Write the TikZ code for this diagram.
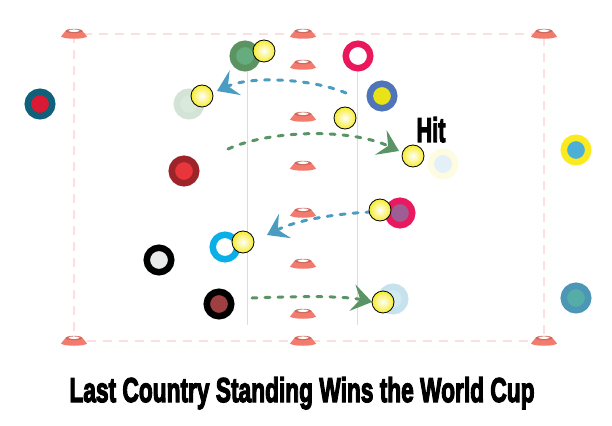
\documentclass[tikz,border=0pt]{standalone}
\usepackage{fontspec}
\usepackage{graphicx}
\usetikzlibrary{arrows.meta}
\newfontfamily\titlefont{Liberation Sans}[BoldFeatures={FakeBold=4}]

\definecolor{conecol}{HTML}{F37B6D}
\definecolor{fieldcol}{HTML}{FCE0E0}
\definecolor{lanecol}{HTML}{DEDED6}
\definecolor{ballcol}{HTML}{F6EC2E}
\definecolor{runblue}{HTML}{4A9CC0}
\definecolor{rungreen}{HTML}{5A9466}
% kit colours
\definecolor{tealout}{HTML}{0F6079}
\definecolor{tealin}{HTML}{DA1A35}
\definecolor{greenout}{HTML}{5B9361}
\definecolor{greenin}{HTML}{65AD7E}
\definecolor{ghostgreenout}{HTML}{D3E3D5}
\definecolor{ghostgreenin}{HTML}{D9EADC}
\definecolor{redringout}{HTML}{E9175C}
\definecolor{blueout}{HTML}{4F74B7}
\definecolor{bluein}{HTML}{E7E316}
\definecolor{ghostskyout}{HTML}{FDFBE1}
\definecolor{ghostskyin}{HTML}{E3F0F8}
\definecolor{yellowout}{HTML}{FBEA20}
\definecolor{yellowin}{HTML}{4CAFD7}
\definecolor{darkredout}{HTML}{9D2428}
\definecolor{darkredin}{HTML}{E9353C}
\definecolor{pinkout}{HTML}{E8195F}
\definecolor{pinkin}{HTML}{9E5E94}
\definecolor{cyanout}{HTML}{0AAFE8}
\definecolor{greyin}{HTML}{E9EBEA}
\definecolor{maroonin}{HTML}{9E4042}
\definecolor{ghostblueout}{HTML}{C6E2EC}
\definecolor{ghostbluein}{HTML}{D1E9F1}
\definecolor{tealgreenout}{HTML}{4B97B5}
\definecolor{tealgreenin}{HTML}{56ADA7}

\tikzset{
  player/.style 2 args={circle, draw=#1, fill=#2, line width=6.5pt, minimum size=24.5pt, inner sep=0pt},
  ball/.style={circle, draw=black, line width=0.8pt, inner color=white, outer color=ballcol, minimum size=22pt, inner sep=0pt},
  run/.style={line width=3pt, line cap=round, dash pattern=on 5pt off 8pt, -{Stealth[length=20pt, width=27pt, inset=8pt]}},
  cone/.pic={
    \fill[conecol] (-8.5,-3) -- (8.5,-3) -- (13,2.5) .. controls (10,5.5) and (-10,5.5) .. (-13,2.5) -- cycle;
    \fill[conecol!85!black] (0,-3) ellipse (8.5 and 2.2);
    \fill[white] (0,-3.3) ellipse (5.5 and 1.3);
  }
}

\begin{document}
\begin{tikzpicture}[x=1pt, y=-1pt]
  \useasboundingbox (0,0) rectangle (612,425);

  % field and lanes
  \draw[fieldcol, line width=1.5pt, dash pattern=on 9pt off 7pt] (74,34) rectangle (544,341);
  \draw[lanecol, line width=1pt] (247,70) -- (247,325);
  \draw[lanecol, line width=1pt] (357,72) -- (357,325);

  % cones
  \pic (c1) at (74,34) {cone};
  \pic (c2) at (303,34) {cone};
  \pic (c3) at (544,34) {cone};
  \pic (c4) at (303,65) {cone};
  \pic (c5) at (303,117) {cone};
  \pic (c6) at (303,166) {cone};
  \pic (c7) at (303,213) {cone};
  \pic (c8) at (303,264) {cone};
  \pic (c9) at (303,314) {cone};
  \pic (c10) at (74,341) {cone};
  \pic (c11) at (303,341) {cone};
  \pic (c12) at (544,341) {cone};

  % runs
  \coordinate (r1s) at (346,93);
  \coordinate (r1e) at (217,91);
  \coordinate (r2s) at (228,149);
  \coordinate (r2e) at (399,151);
  \coordinate (r3s) at (371,212);
  \coordinate (r3e) at (267,235);
  \coordinate (r4s) at (252,298);
  \coordinate (r4e) at (372,302);
  \draw[run, runblue] (r1s) .. controls (310,78) and (250,76) .. (r1e);
  \draw[run, rungreen] (r2s) .. controls (270,130) and (350,128) .. (r2e);
  \draw[run, runblue] (r3s) .. controls (330,214) and (295,221) .. (r3e);
  \draw[run, rungreen] (r4s) .. controls (300,296) and (345,296) .. (r4e);

  % players
  \node[player={tealout}{tealin}] (teal) at (40,104) {};
  \node[player={greenout}{greenin}] (green) at (245,56) {};
  \node[player={ghostgreenout}{ghostgreenin}] (ghostgreen) at (189,104) {};
  \node[player={redringout}{white}] (redring) at (358,56) {};
  \node[player={blueout}{bluein}] (blueyellow) at (382,96) {};
  \node[player={ghostskyout}{ghostskyin}] (ghostsky) at (443,164) {};
  \node[player={yellowout}{yellowin}] (yellowsky) at (576,150) {};
  \node[player={darkredout}{darkredin}] (darkred) at (184,171) {};
  \node[player={pinkout}{pinkin}] (pink) at (400,213) {};
  \node[player={cyanout}{white}] (cyanring) at (225,247) {};
  \node[player={black}{greyin}] (blackgrey) at (159,260) {};
  \node[player={black}{maroonin}] (blackred) at (219,304) {};
  \node[player={ghostblueout}{ghostbluein}] (ghostblue) at (393,299) {};
  \node[player={tealgreenout}{tealgreenin}] (tealgreen) at (576,298) {};

  % balls
  \node[ball] (b1) at (264,51) {};
  \node[ball] (b2) at (202,96) {};
  \node[ball] (b3) at (345,118) {};
  \node[ball] (b4) at (413,156) {};
  \node[ball] (b5) at (380,210) {};
  \node[ball] (b6) at (243,242) {};
  \node[ball] (b7) at (383,302) {};

  % labels
  \node[anchor=base, inner sep=0pt] (hit) at (431,142) {\resizebox{29pt}{25pt}{\titlefont\bfseries Hit}};
  \node[anchor=base, inner sep=0pt] (title) at (302,402) {\resizebox{465pt}{25pt}{\titlefont\bfseries Last Country Standing Wins the World Cup}};
\end{tikzpicture}
\end{document}
